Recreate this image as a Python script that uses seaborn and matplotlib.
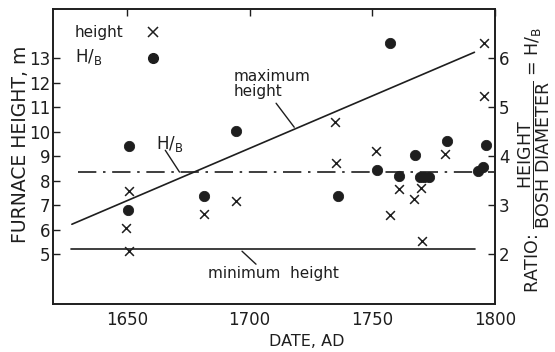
import matplotlib
matplotlib.use('Agg')
import matplotlib.pyplot as plt
import seaborn as sns

# furnace heights (x markers, left axis)
height_years = [1649.7, 1651, 1651, 1681.4, 1694.5, 1735.0, 1735.4, 1751.7,
                1757.1, 1760.9, 1767.0, 1770.0, 1770.5, 1779.8, 1795.7, 1795.7]
height_m = [6.05, 7.58, 5.13, 6.63, 7.16, 10.40, 8.73, 9.22,
            6.59, 7.64, 7.27, 7.72, 5.53, 9.07, 13.6, 11.45]

# height / bosh diameter ratio (dots, right axis)
hb_years = [1650.5, 1650.7, 1681.4, 1694.3, 1736.1, 1752.0, 1757.4, 1760.9,
            1767.4, 1769.5, 1771.2, 1773.0, 1780.4, 1793.0, 1795.0, 1796.4]
hb_ratio = [2.90, 4.20, 3.19, 4.51, 3.18, 3.71, 6.30, 3.59,
            4.02, 3.58, 3.58, 3.58, 4.31, 3.69, 3.78, 4.22]

# trend lines
max_line_years = [1627.5, 1791.7]
max_line_heights = [6.22, 13.24]
min_line_years = [1627.0, 1792.0]
min_line_heights = [5.2, 5.2]
hb_line_years = [1630.0, 1799.5]
hb_line_ratio = [3.68, 3.68]

x_ticks = [1650, 1700, 1750, 1800]
left_ticks = [5, 6, 7, 8, 9, 10, 11, 12, 13]
right_ticks = [2, 3, 4, 5, 6]

ink = '#1e1e1e'

sns.set_style('white')
plt.rcParams['font.family'] = ['DejaVu Sans']
plt.rcParams['text.color'] = ink
plt.rcParams['axes.labelcolor'] = ink
plt.rcParams['xtick.color'] = ink
plt.rcParams['ytick.color'] = ink

fig = plt.figure(figsize=(5.55, 3.52), dpi=100)
ax = fig.add_axes([0.0955, 0.136, 0.796, 0.838])
ax2 = ax.twinx()

sns.lineplot(x=max_line_years, y=max_line_heights, ax=ax, color=ink, lw=1.2)
sns.lineplot(x=min_line_years, y=min_line_heights, ax=ax, color=ink, lw=1.2)
ax2.plot(hb_line_years, hb_line_ratio, color=ink, lw=1.2,
         linestyle=(0, (11, 4, 1.5, 4)))

sns.scatterplot(x=height_years, y=height_m, ax=ax, marker='x', s=40,
                color=ink, linewidth=1.1, zorder=5)
sns.scatterplot(x=hb_years, y=hb_ratio, ax=ax2, marker='o', s=55,
                color=ink, edgecolor=ink, zorder=5)

ax.set_xlim(1619.8, 1800)
ax.set_ylim(2.96, 15.0)
ax2.set_ylim(0.98, 7.0)
ax.set_xticks(x_ticks)
ax.set_yticks(left_ticks)
ax2.set_yticks(right_ticks)

ax.tick_params(axis='x', direction='in', top=True, length=5, width=1,
               labelsize=12, pad=5)
ax.tick_params(axis='y', direction='in', length=5, width=1, labelsize=12, pad=2)
ax2.tick_params(axis='y', direction='in', length=5, width=1, labelsize=12, pad=3)
for a in (ax, ax2):
    for s in a.spines.values():
        s.set_color(ink)
        s.set_linewidth(1.2)

ax.set_xlabel('DATE, AD', fontsize=11.5)
ax.xaxis.set_label_coords(0.575, -0.10)
ax.set_ylabel('FURNACE HEIGHT, m', fontsize=13.5)
ax.yaxis.set_label_coords(-0.053, 0.542)
ax2.set_ylabel(r'RATIO: $\dfrac{\mathrm{HEIGHT}}{\mathrm{BOSH\ DIAMETER}}$ = H/$_\mathregular{B}$',
               fontsize=12.5)
ax2.yaxis.set_label_coords(1.05, 0.49)

# annotations
ax.text(1693.5, 12.55, 'maximum\nheight', fontsize=11, ha='left', va='top',
        linespacing=1.0)
ax.plot([1710.8, 1718.2], [11.16, 10.18], color=ink, lw=1)
ax.text(1667.3, 9.49, r'H/$_\mathregular{B}$', fontsize=12, ha='center', va='center')
ax.plot([1665.6, 1671.4], [9.24, 8.35], color=ink, lw=1)
ax.text(1682.9, 4.22, 'minimum  height', fontsize=11, ha='left', va='center')
ax.plot([1696.9, 1702.6], [5.12, 4.59], color=ink, lw=1)

# key in the upper left corner
ax.text(0.05, 0.922, 'height', fontsize=11, ha='left', va='center',
        transform=ax.transAxes)
ax.text(0.05, 0.838, r'H/$_\mathregular{B}$', fontsize=12, ha='left', va='center',
        transform=ax.transAxes)
ax.plot([0.226], [0.922], marker='x', ls='none', color=ink, ms=6.5, mew=1.1,
        transform=ax.transAxes)
ax.plot([0.226], [0.834], marker='o', ls='none', color=ink, ms=7,
        transform=ax.transAxes)

fig.savefig('out.png', dpi=100)
